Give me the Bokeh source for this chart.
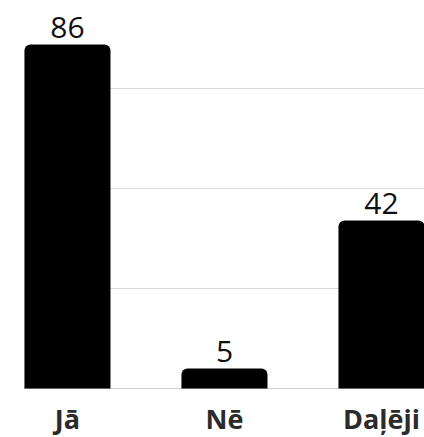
from bokeh.plotting import figure
from bokeh.models import ColumnDataSource, FixedTicker, Range1d, Span
from bokeh.core.properties import value
from bokeh.embed import file_html
from bokeh.resources import INLINE

categories = ["Jā", "Nē", "Daļēji"]
values = [86, 5, 42]
labels = [str(v) for v in values]
grid_ticks = [25, 50, 75]

xs = list(range(len(categories)))
src = ColumnDataSource(dict(x=xs, top=values, label=labels, cat=categories, base=[0] * len(xs)))

# frame: x 23..424, y 8..437 ; 4 px per unit, baseline at y=388
p = figure(width=424, height=437, output_backend="svg", toolbar_location=None,
           x_range=Range1d(-0.28, 2.274), y_range=Range1d(-12.25, 95),
           min_border_left=23, min_border_right=0, min_border_top=8, min_border_bottom=0)
p.outline_line_color = None
p.background_fill_color = "white"
p.xaxis.visible = False
p.yaxis.visible = False
p.xgrid.visible = False
p.ygrid.ticker = FixedTicker(ticks=grid_ticks)
p.ygrid.grid_line_color = "#d9d9d9"
p.ygrid.grid_line_width = 1
p.ygrid.level = "underlay"

p.add_layout(Span(location=0, dimension="width", line_color="#cccccc", line_width=1, level="underlay"))

p.vbar(x="x", top="top", width=0.548, bottom=0, source=src, fill_color="black",
       line_color=None, border_radius=(6, 6, 0, 0))

p.text(x="x", y="top", text="label", source=src, text_align="center",
       text_baseline="bottom", y_offset=-7, text_font=value("Open Sans"),
       text_font_size="30px", text_color="#111111")

p.text(x="x", y="base", text="cat", source=src, text_align="center",
       text_baseline="middle", y_offset=30, text_font=value("Open Sans"),
       text_font_style="bold", text_font_size="27px", text_color="#2b2b2b")

open("out.html", "w").write(file_html(p, INLINE))
